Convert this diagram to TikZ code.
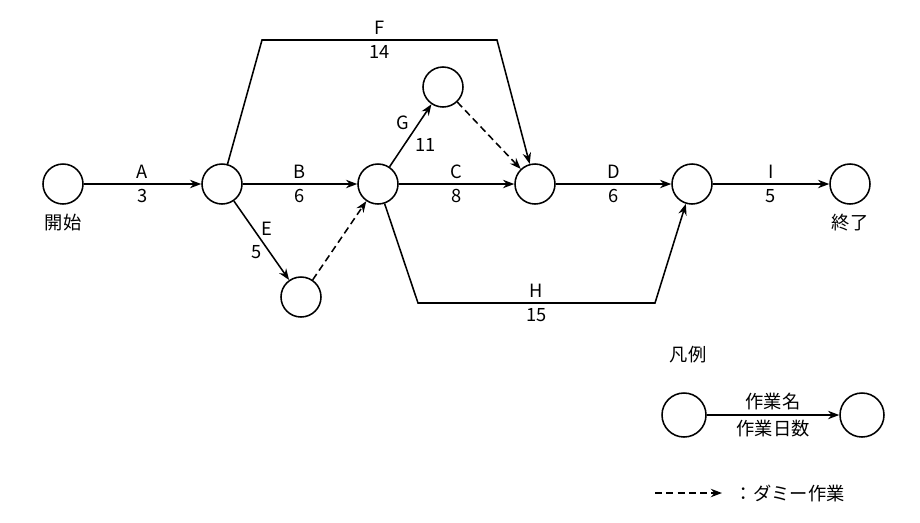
\documentclass[tikz,border=0pt]{standalone}
\usepackage{fontspec}
\newfontfamily\jp{Noto Sans CJK JP}
\usetikzlibrary{arrows.meta, positioning}

\begin{document}
\begin{tikzpicture}[
	x=0.025cm, y=-0.025cm,
	every node/.style={font=\jp\fontsize{13}{15}\selectfont},
	event/.style={draw, line width=1.1pt, circle, minimum size=1cm, inner sep=0pt},
	arrow/.style={-{Stealth[length=2.8mm]}, line width=1.1pt},
	dummy/.style={-{Stealth[length=2.8mm]}, line width=1.1pt, dash pattern=on 5pt off 3pt}
	]
	\useasboundingbox (0,0) rectangle (920,522);
	
	% === EVENTS ===
	\node[event] (start) at (63,184) {};
	\node[event] (n2) at (222,184) {};
	\node[event] (n3) at (378,184) {};
	\node[event] (n4) at (443,87) {};
	\node[event] (n5) at (535,184) {};
	\node[event] (n6) at (692,184) {};
	\node[event] (stop) at (850,184) {};
	\node[event] (n7) at (301,297) {};
	\node[below=0.1cm of start] {開始};
	\node[below=0.1cm of stop] {終了};
	
	% === ACTIVITIES ===
	\draw[arrow] (start) -- node[above] {A} node[below] {3} (n2);
	\draw[arrow] (n2) -- node[above] {B} node[below] {6} (n3);
	\draw[arrow] (n3) -- node[above] {C} node[below] {8} (n5);
	\draw[arrow] (n5) -- node[above] {D} node[below] {6} (n6);
	\draw[arrow] (n6) -- node[above] {I} node[below] {5} (stop);
	\draw[arrow] (n2) -- node[pos=0.35, right=2pt] {E} node[pos=0.65, left=2pt] {5} (n7);
	\draw[arrow] (n3) -- node[pos=0.7, left=3pt] {G} node[pos=0.35, right=4pt] {11} (n4);
	\coordinate (f1) at (262,40);
	\coordinate (f2) at (497,40);
	\draw[arrow] (n2) -- (f1) -- node[above] {F} node[below] {14} (f2) -- (n5);
	\coordinate (h1) at (418,303);
	\coordinate (h2) at (655,303);
	\draw[arrow] (n3) -- (h1) -- node[above] {H} node[below] {15} (h2) -- (n6);
	
	% === DUMMIES ===
	\draw[dummy] (n7) -- (n3);
	\draw[dummy] (n4) -- (n5);
	
	% === LEGEND ===
	\node[right] (legend) at (665,355) {凡例};
	\node[event, minimum size=1.1cm] (la) at (684,415) {};
	\node[event, minimum size=1.1cm] (lb) at (862,415) {};
	\draw[arrow] (la) -- node[above] {作業名} node[below] {作業日数} (lb);
	\coordinate (d1) at (655,493);
	\coordinate (d2) at (722,493);
	\draw[dummy] (d1) -- (d2);
	\node[right] (dlabel) at (730,493) {：ダミー作業};
\end{tikzpicture}
\end{document}
